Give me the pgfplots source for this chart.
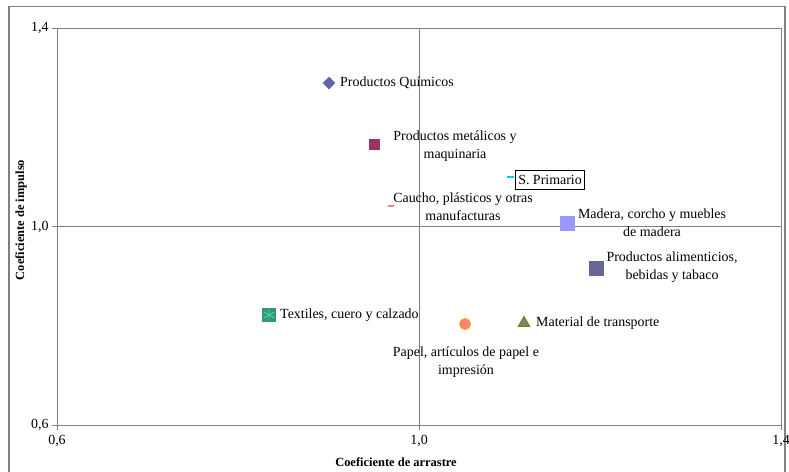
\documentclass[border=0pt]{standalone}
\usepackage{pgfplots}
\pgfplotsset{compat=1.18}
\usepackage{fontspec}
\setmainfont{Liberation Serif}
\definecolor{axgray}{RGB}{128,128,128}
\definecolor{cquim}{RGB}{100,100,165}
\definecolor{cmet}{RGB}{153,51,102}
\definecolor{cprim}{RGB}{0,204,255}
\definecolor{ccau}{RGB}{255,128,128}
\definecolor{cmad}{RGB}{153,153,255}
\definecolor{cali}{RGB}{102,102,153}
\definecolor{ctex}{RGB}{51,153,102}
\definecolor{ctexs}{RGB}{80,200,210}
\definecolor{cpap}{RGB}{255,128,128}
\definecolor{cpape}{RGB}{255,153,0}
\definecolor{ctra}{RGB}{128,128,128}
\definecolor{ctrae}{RGB}{128,128,0}
\begin{document}
\begin{tikzpicture}[x=1bp,y=1bp, lbl/.style={font=\fontsize{14}{18}\selectfont, inner sep=0pt}]
\path[use as bounding box] (0,0) rectangle (789,472);
\draw[color=axgray, line width=1.3bp] (9,-5) rectangle (785,465.5);
\begin{axis}[
  at={(57bp,47bp)}, anchor=south west,
  scale only axis, width=724bp, height=397bp,
  xmin=0.6, xmax=1.4, ymin=0.6, ymax=1.4,
  xtick={0.6,1.0,1.4}, ytick={0.6,1.0,1.4},
  axis line style={axgray, line width=0.9bp},
  tick style={axgray, line width=0.8bp},
  tick align=outside, major tick length=5bp,
  tick pos=left,
  /pgf/number format/use comma,
  /pgf/number format/fixed,
  /pgf/number format/fixed zerofill,
  /pgf/number format/precision=1,
  /pgf/number format/assume math mode=true,
  ticklabel style={font=\fontsize{14}{15}\selectfont},
  xticklabel style={yshift=-2bp},
  clip=false,
]
\draw[axgray, line width=0.8bp] (axis cs:1,0.6) -- (axis cs:1,1.4);
\draw[axgray, line width=0.8bp] (axis cs:0.6,1) -- (axis cs:1.4,1);
% Productos Quimicos
\addplot[only marks, mark=square*, mark size=4.3bp, mark options={rotate=45, fill=cquim, draw=cquim, line width=0.4bp}] coordinates {(0.9006,1.289)};
% Productos metalicos
\addplot[only marks, mark=square*, mark size=5.3bp, mark options={fill=cmet, draw=cmet, line width=0.4bp}] coordinates {(0.9503,1.166)};
% S. Primario
\addplot[only marks, mark=-, mark size=3.5bp, mark options={draw=cprim, line width=2bp}] coordinates {(1.1006,1.0997)};
% Caucho
\addplot[only marks, mark=-, mark size=3.2bp, mark options={draw=ccau, line width=1.8bp}] coordinates {(0.969,1.0413)};
% Madera
\addplot[only marks, mark=square*, mark size=7.3bp, mark options={fill=cmad, draw=cmad, line width=0.4bp}] coordinates {(1.1636,1.007)};
% Alimenticios
\addplot[only marks, mark=square*, mark size=7.2bp, mark options={fill=cali, draw=cali, line width=0.4bp}] coordinates {(1.1956,0.9164)};
% Textiles
\addplot[only marks, mark=square*, mark size=6.5bp, mark options={fill=ctex, draw=ctex, line width=0.4bp}] coordinates {(0.8343,0.8217)};
\addplot[only marks, mark=asterisk, mark size=6bp, mark options={draw=ctexs, line width=0.9bp}] coordinates {(0.8343,0.8217)};
% Papel
\addplot[only marks, mark=*, mark size=5.3bp, mark options={fill=cpap, draw=cpape, line width=1.1bp}] coordinates {(1.0509,0.8035)};
% Material de transporte
\addplot[only marks, mark=triangle*, mark size=6.4bp, mark options={fill=ctra, draw=ctrae, line width=1.1bp}] coordinates {(1.116,0.8055)};

\node[lbl, anchor=west] at (axis cs:0.9127,1.2892) {Productos Químicos};
\node[lbl, align=center] at (axis cs:1.0398,1.1622) {Productos metálicos y\\maquinaria};
\node[lbl, draw=black, line width=0.8bp, inner xsep=2.5bp, inner ysep=5bp] at (axis cs:1.1448,1.0937) {S. Primario};
\node[lbl, align=center] at (axis cs:1.0486,1.0393) {Caucho, plásticos y otras\\manufacturas};
\node[lbl, align=center] at (axis cs:1.2575,1.0071) {Madera, corcho y muebles\\de madera};
\node[lbl, align=center] at (axis cs:1.2796,0.9184) {Productos alimenticios,\\bebidas y tabaco};
\node[lbl, anchor=west] at (axis cs:0.8464,0.8217) {Textiles, cuero y calzado};
\node[lbl, align=center] at (axis cs:1.0519,0.7270) {Papel, artículos de papel e\\impresión};
\node[lbl, anchor=west] at (axis cs:1.1293,0.8055) {Material de transporte};
\end{axis}
\node[font=\bfseries\fontsize{12.5}{14}\selectfont] at (396,10) {Coeficiente de arrastre};
\node[rotate=90, font=\bfseries\fontsize{12.5}{14}\selectfont] at (21,252) {Coeficiente de impulso};
\end{tikzpicture}
\end{document}
